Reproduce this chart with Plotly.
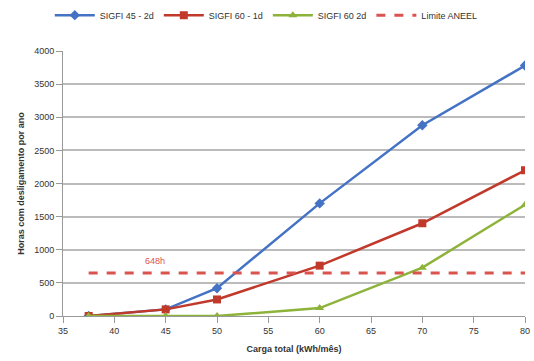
import plotly.graph_objects as go

x = [37.5, 45, 50, 60, 70, 80]
sigfi45_2d = [0, 100, 420, 1700, 2880, 3780]
sigfi60_1d = [0, 100, 250, 760, 1400, 2200]
sigfi60_2d = [0, 0, 0, 120, 730, 1680]
limite_x = [37.5, 80]
limite = [648, 648]
names = ["SIGFI 45 - 2d", "SIGFI 60 - 1d", "SIGFI 60 2d", "Limite ANEEL"]
xticks = [35, 40, 45, 50, 55, 60, 65, 70, 75, 80]
yticks = [0, 500, 1000, 1500, 2000, 2500, 3000, 3500, 4000]

fig = go.Figure()
fig.add_trace(go.Scatter(x=x, y=sigfi45_2d, name=names[0], mode="lines+markers",
                         line=dict(color="#4472C4", width=2.5),
                         marker=dict(symbol="diamond", size=8, color="#4472C4")))
fig.add_trace(go.Scatter(x=x, y=sigfi60_1d, name=names[1], mode="lines+markers",
                         line=dict(color="#C0392B", width=2.5),
                         marker=dict(symbol="square", size=8, color="#C0392B")))
fig.add_trace(go.Scatter(x=x, y=sigfi60_2d, name=names[2], mode="lines+markers",
                         line=dict(color="#8DB33A", width=2.5),
                         marker=dict(symbol="triangle-up", size=8, color="#8DB33A")))
fig.add_trace(go.Scatter(x=limite_x, y=limite, name=names[3], mode="lines",
                         line=dict(color="#D9534F", width=3, dash="dash")))

fig.add_annotation(x=44, y=648, text="648h", showarrow=False, yshift=12,
                   font=dict(color="#D9534F", size=9, family="Liberation Sans"))

fig.update_layout(
    width=534, height=361,
    margin=dict(l=63, r=9, t=51, b=45),
    paper_bgcolor="white", plot_bgcolor="white",
    font=dict(family="Liberation Sans", size=9, color="#333"),
    legend=dict(orientation="h", x=0.44, xanchor="center", yref="container",
                y=0.958, yanchor="middle", font=dict(size=9), itemwidth=40),
    xaxis=dict(range=[35, 80], tickvals=xticks, showgrid=False, showline=True,
               linecolor="#999", ticks="outside", tickcolor="#999", ticklen=6,
               automargin=False,
               title=dict(text="<b>Carga total (kWh/mês)</b>", font=dict(size=9), standoff=10)),
    yaxis=dict(range=[0, 4000], tickvals=yticks, showgrid=True, gridcolor="#bbb",
               gridwidth=1.5, showline=True, linecolor="#999", zeroline=False,
               ticks="outside", tickcolor="#999", ticklen=6, automargin=False,
               title=dict(text="<b>Horas com desligamento por ano</b>", font=dict(size=9), standoff=8)),
)

fig.write_html("out.html")
